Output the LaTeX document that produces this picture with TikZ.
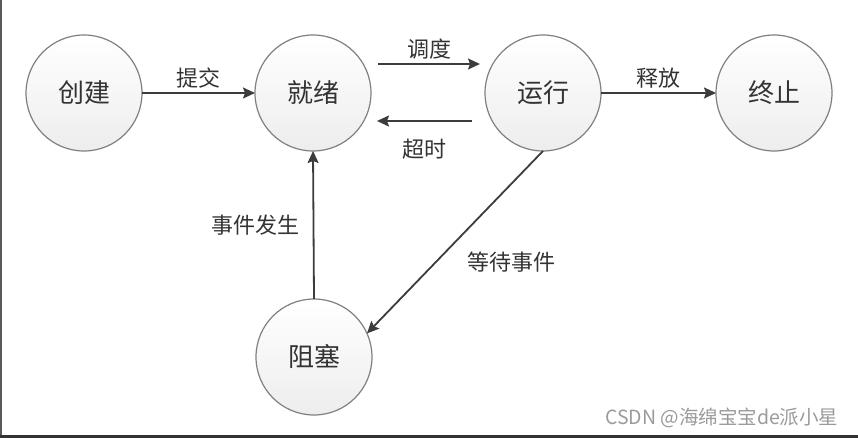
\documentclass[tikz,border=0pt]{standalone}
\usepackage{fontspec}
\setmainfont{Noto Sans CJK SC}
\usetikzlibrary{arrows.meta}
\definecolor{ringgray}{HTML}{808080}
\definecolor{inkgray}{HTML}{333333}
\definecolor{arrowgray}{HTML}{3C3C3C}
\definecolor{markgray}{HTML}{9A9A9A}

\begin{document}
\begin{tikzpicture}[x=1pt,y=1pt,
	proc/.style={circle,draw=ringgray,line width=1.2pt,minimum size=116pt,inner sep=0pt,outer sep=0pt,
		top color=white,bottom color=gray!14,text=inkgray,font=\fontsize{26}{30}\selectfont},
	trans/.style={draw=arrowgray,line width=1.8pt,-{Stealth[length=12pt,width=11pt,inset=2pt]}},
	lab/.style={text=inkgray,font=\fontsize{22}{26}\selectfont,inner sep=2pt}]
\useasboundingbox (0,0) rectangle (858,438);
\draw[line width=2pt,color=black!65] (1,0)--(1,438);
\draw[line width=2.5pt,color=black!80] (0,1.5)--(858,1.5);
\node[proc] (create) at (84,345){创建};
\node[proc] (ready) at (313,345){就绪};
\node[proc] (run) at (543,345){运行};
\node[proc] (stop) at (774,345){终止};
\node[proc] (block) at (314,81){阻塞};
\draw[trans] (create) -- node[lab,above=2pt] (submit){提交} (ready);
\draw[trans] ([xshift=7pt,yshift=29pt]ready.east) -- node[lab,above=2pt] (sched){调度} ([xshift=-5pt,yshift=29pt]run.west);
\draw[trans] ([xshift=-13pt,yshift=-28pt]run.west) -- node[lab,below=15pt] (timeout){超时} ([xshift=6pt,yshift=-28pt]ready.east);
\draw[trans] (run) -- node[lab,above=2pt] (release){释放} (stop);
\draw[trans] (run.south) -- node[lab,pos=0.61,right=29pt] (wait){等待事件} (block.24);
\draw[trans] (block.north) -- node[lab,left=11pt] (event){事件发生} (ready.south);
\node[text=markgray,font=\fontsize{19.5}{23}\selectfont,anchor=east] (mark) at (842,20){CSDN @海绵宝宝de派小星};
\end{tikzpicture}
\end{document}
